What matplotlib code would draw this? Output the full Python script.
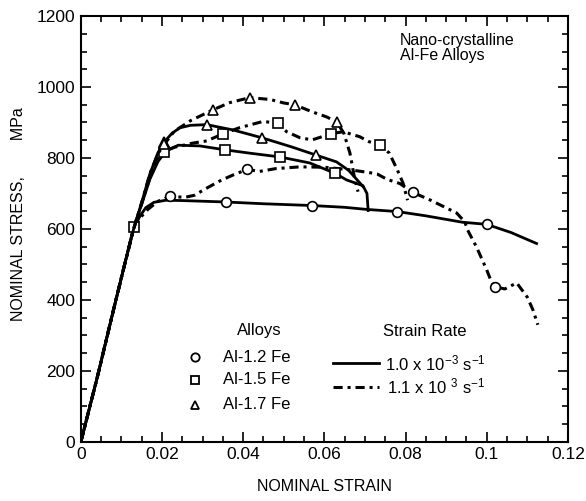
import matplotlib
matplotlib.use("Agg")
import matplotlib.pyplot as plt
from matplotlib.ticker import MultipleLocator, FuncFormatter
from matplotlib.lines import Line2D

plt.rcParams['font.family'] = ['Liberation Sans', 'DejaVu Sans']
plt.rcParams['mathtext.fontset'] = 'custom'
plt.rcParams['mathtext.rm'] = 'Liberation Sans'
plt.rcParams['mathtext.it'] = 'Liberation Sans:italic'

# ---------------- data (nominal strain, nominal stress MPa) ----------------
# Al-1.2 Fe, quasi-static (1.0e-3 /s)
qs12_x = [0, 0.004, 0.008, 0.011, 0.013, 0.0145, 0.016, 0.018, 0.021, 0.025, 0.0357,
          0.045, 0.057, 0.065, 0.0705, 0.078, 0.085, 0.094, 0.1, 0.106, 0.1123]
qs12_y = [0, 180, 370, 510, 600, 635, 660, 675, 681, 680, 676,
          671, 666, 661, 655, 649, 637, 619, 613, 590, 559]
qs12_mk = [10, 12, 15, 18]

# Al-1.2 Fe, dynamic (1.1e3 /s)
dy12_x = [0, 0.004, 0.008, 0.011, 0.013, 0.0145, 0.0165, 0.019, 0.022, 0.0256, 0.028,
          0.031, 0.0347, 0.0375, 0.041, 0.044, 0.048, 0.054, 0.06, 0.066, 0.0705, 0.073,
          0.0754, 0.0786, 0.0818, 0.086, 0.0926, 0.0946, 0.0953, 0.0975, 0.1, 0.101,
          0.102, 0.1045, 0.1074, 0.11, 0.1114, 0.1126]
dy12_y = [0, 180, 370, 510, 600, 630, 655, 678, 692, 689, 695,
          715, 738, 752, 768, 762, 770, 775, 774, 767, 760, 755,
          740, 728, 703, 682, 645, 620, 597, 549, 485, 456,
          437, 431, 448, 408, 372, 330]
dy12_mk = [8, 14, 24, 32]

# Al-1.5 Fe, quasi-static
qs15_x = [0, 0.004, 0.008, 0.011, 0.013, 0.015, 0.017, 0.019, 0.021, 0.024, 0.0293,
          0.0355, 0.042, 0.049, 0.0564, 0.0626, 0.0655, 0.0695, 0.0705, 0.0708]
qs15_y = [0, 180, 370, 510, 605, 670, 740, 790, 820, 836, 834,
          823, 813, 803, 786, 757, 738, 722, 700, 652]
qs15_mk = [4, 11, 13, 15]

# Al-1.5 Fe, dynamic
dy15_x = [0, 0.004, 0.008, 0.011, 0.013, 0.015, 0.017, 0.019, 0.0205, 0.023, 0.0276,
          0.031, 0.035, 0.039, 0.0449, 0.0486, 0.0507, 0.054, 0.057, 0.0616, 0.0646,
          0.0687, 0.071, 0.0737, 0.076, 0.078, 0.0794, 0.0805]
dy15_y = [0, 180, 370, 510, 600, 672, 745, 795, 818, 830, 842,
          848, 868, 885, 903, 898, 874, 857, 851, 868, 874,
          860, 846, 836, 814, 766, 729, 681]
dy15_mk = [8, 12, 15, 19, 23]

# Al-1.7 Fe, quasi-static
qs17_x = [0, 0.004, 0.008, 0.011, 0.013, 0.015, 0.017, 0.019, 0.0205, 0.0225, 0.0244,
          0.027, 0.031, 0.0375, 0.0446, 0.052, 0.058, 0.063, 0.066, 0.0695]
qs17_y = [0, 180, 370, 510, 600, 675, 755, 815, 845, 870, 885,
          892, 894, 879, 857, 831, 808, 789, 765, 720]
qs17_mk = [8, 12, 14, 16]

# Al-1.7 Fe, dynamic
dy17_x = [0, 0.004, 0.008, 0.011, 0.013, 0.015, 0.017, 0.019, 0.0205, 0.023, 0.027,
          0.0326, 0.0367, 0.0416, 0.0466, 0.05, 0.0527, 0.057, 0.0605, 0.063, 0.0648,
          0.0663, 0.0675, 0.0683]
dy17_y = [0, 180, 370, 510, 600, 675, 755, 812, 838, 875, 905,
          936, 956, 970, 965, 955, 950, 930, 916, 902, 870,
          814, 740, 705]
dy17_mk = [8, 11, 13, 16, 19]

x_ticks = [0, 0.02, 0.04, 0.06, 0.08, 0.1, 0.12]
y_ticks = [0, 200, 400, 600, 800, 1000, 1200]

alloy_labels = ["Al-1.2 Fe", "Al-1.5 Fe", "Al-1.7 Fe"]
rate_labels = ["1.0 x 10$^{-3}$ s$^{-1}$", "1.1 x 10 $^{3}$ s$^{-1}$"]

# ---------------- figure ----------------
fig = plt.figure(figsize=(5.86, 5.01), dpi=100)
ax = fig.add_axes([0.138, 0.118, 0.831, 0.850])

solid = dict(color='black', lw=2.0, linestyle='-')
dashed = dict(color='black', lw=2.2, linestyle=(0, (3.0, 1.6, 1.0, 1.6)))
mk = dict(markerfacecolor='white', markeredgecolor='black', markeredgewidth=1.2)

ax.plot(qs12_x, qs12_y, marker='o', markersize=7, markevery=qs12_mk, **solid, **mk)
ax.plot(dy12_x, dy12_y, marker='o', markersize=7, markevery=dy12_mk, **dashed, **mk)
ax.plot(qs15_x, qs15_y, marker='s', markersize=7, markevery=qs15_mk, **solid, **mk)
ax.plot(dy15_x, dy15_y, marker='s', markersize=7, markevery=dy15_mk, **dashed, **mk)
ax.plot(qs17_x, qs17_y, marker='^', markersize=7.5, markevery=qs17_mk, **solid, **mk)
ax.plot(dy17_x, dy17_y, marker='^', markersize=7.5, markevery=dy17_mk, **dashed, **mk)

ax.set_xlim(0, 0.12)
ax.set_ylim(0, 1200)
ax.set_xticks(x_ticks)
ax.set_yticks(y_ticks)
ax.xaxis.set_minor_locator(MultipleLocator(0.005))
ax.yaxis.set_minor_locator(MultipleLocator(50))
ax.xaxis.set_major_formatter(FuncFormatter(lambda v, p: "%g" % round(v, 3)))
ax.yaxis.set_major_formatter(FuncFormatter(lambda v, p: "%d" % v))
ax.tick_params(which='both', direction='in', top=True, right=True, width=1.2,
               labelsize=12.5, colors='black')
ax.tick_params(which='major', length=7, pad=4)
ax.tick_params(which='minor', length=4)
for s in ax.spines.values():
    s.set_linewidth(1.5)

ax.set_xlabel("NOMINAL STRAIN", fontsize=11.5, labelpad=12)
ax.set_ylabel("NOMINAL STRESS,        MPa", fontsize=11.5)
ax.yaxis.set_label_coords(-0.112, 0.535)

# annotation
ax.text(0.655, 0.925, "Nano-crystalline\nAl-Fe Alloys", transform=ax.transAxes,
        fontsize=11.5, ha='left', va='center', linespacing=1.0)

# custom legend: alloys
ax.text(0.0439, 315, "Alloys", fontsize=12, ha='center', va='center')
mk_shapes = ['o', 's', '^']
mk_y = [239, 175, 104]
for shp, yy, lab in zip(mk_shapes, mk_y, alloy_labels):
    ax.add_line(Line2D([0.0281], [yy], marker=shp, markersize=6, linestyle='none',
                       markerfacecolor='white', markeredgecolor='black',
                       markeredgewidth=1.3))
    ax.text(0.035, yy, lab, fontsize=12, ha='left', va='center')

# custom legend: strain rate
ax.text(0.0848, 310, "Strain Rate", fontsize=12, ha='center', va='center')
ax.add_line(Line2D([0.0621, 0.0734], [222, 222], **solid))
ax.add_line(Line2D([0.0621, 0.0734], [155, 155], **dashed))
ax.text(0.0749, 222, rate_labels[0], fontsize=12, ha='left', va='center')
ax.text(0.0754, 155, rate_labels[1], fontsize=12, ha='left', va='center')

fig.savefig("out.png", dpi=100)
